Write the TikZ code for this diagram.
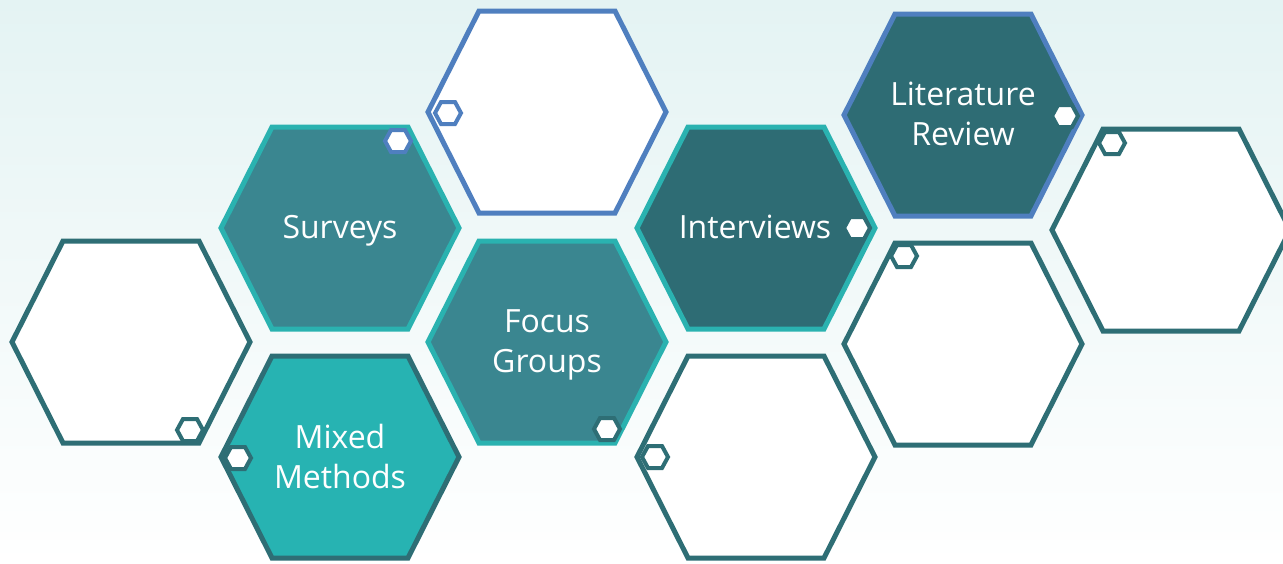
\documentclass[tikz,border=0pt]{standalone}
\usepackage{fontspec}
\setmainfont{Open Sans}
\definecolor{dteal}{HTML}{2E6E75}
\definecolor{bteal}{HTML}{2AB2B0}
\definecolor{mteal}{HTML}{3A8690}
\definecolor{fteal}{HTML}{2E6C74}
\definecolor{cteal}{HTML}{27B3B2}
\definecolor{hblue}{HTML}{4F7FBF}
\definecolor{bgtop}{HTML}{E4F3F3}
\definecolor{bgmid}{HTML}{F6FAFB}
\tikzset{
 bighex/.pic={\path[pic actions] (-119,0) -- (-68,-101) -- (68,-101) -- (119,0) -- (68,101) -- (-68,101) -- cycle;},
 smallhex/.pic={\path[pic actions] (-13,0) -- (-7,-11) -- (7,-11) -- (13,0) -- (7,11) -- (-7,11) -- cycle;},
 hexline/.style={line width=5pt},
 dotline/.style={line width=4pt, fill=white},
 hextext/.style={text=white, align=center, inner sep=0pt, font=\fontsize{32}{40}\selectfont},
}
\begin{document}
\begin{tikzpicture}[x=1pt,y=-1pt]
\useasboundingbox (0,0) rectangle (1283,563);
\shade[top color=bgtop, middle color=bgmid, bottom color=white] (0,0) rectangle (1283,563);
\begin{scope}
\clip (0,0) rectangle (1283,563);
% big hexagons
\pic[draw=dteal, fill=white, hexline] at (131,342) {bighex};
\pic[draw=bteal, fill=mteal, hexline] at (340,228) {bighex};
\pic[draw=dteal, fill=cteal, hexline] at (340,457) {bighex};
\pic[draw=hblue, fill=white, hexline] at (547,112) {bighex};
\pic[draw=bteal, fill=mteal, hexline] at (547,342) {bighex};
\pic[draw=bteal, fill=fteal, hexline] at (756,228) {bighex};
\pic[draw=dteal, fill=white, hexline] at (756,457) {bighex};
\pic[draw=hblue, fill=fteal, hexline] at (963,115) {bighex};
\pic[draw=dteal, fill=white, hexline] at (963,344) {bighex};
\pic[draw=dteal, fill=white, hexline] at (1171,230) {bighex};
% small hexagons
\pic[draw=dteal, dotline] at (190,430) {smallhex};
\pic[draw=hblue, dotline] at (398,141) {smallhex};
\pic[draw=dteal, dotline] at (238,458) {smallhex};
\pic[draw=hblue, dotline] at (448,113) {smallhex};
\pic[draw=dteal, dotline] at (607,429) {smallhex};
\pic[draw=fteal, dotline] at (857,228) {smallhex};
\pic[draw=dteal, dotline] at (655,457) {smallhex};
\pic[draw=fteal, dotline] at (1065,116) {smallhex};
\pic[draw=dteal, dotline] at (904,256) {smallhex};
\pic[draw=dteal, dotline] at (1112,143) {smallhex};
\end{scope}
% labels
\node[hextext] (surveys) at (340,231) {Surveys};
\node[hextext] (mixed) at (340,456) {Mixed\\Methods};
\node[hextext] (focus) at (547,345) {Focus\\Groups};
\node[hextext] (interviews) at (755,227) {Interviews};
\node[hextext] (literature) at (963,114) {Literature\\Review};
\end{tikzpicture}
\end{document}
